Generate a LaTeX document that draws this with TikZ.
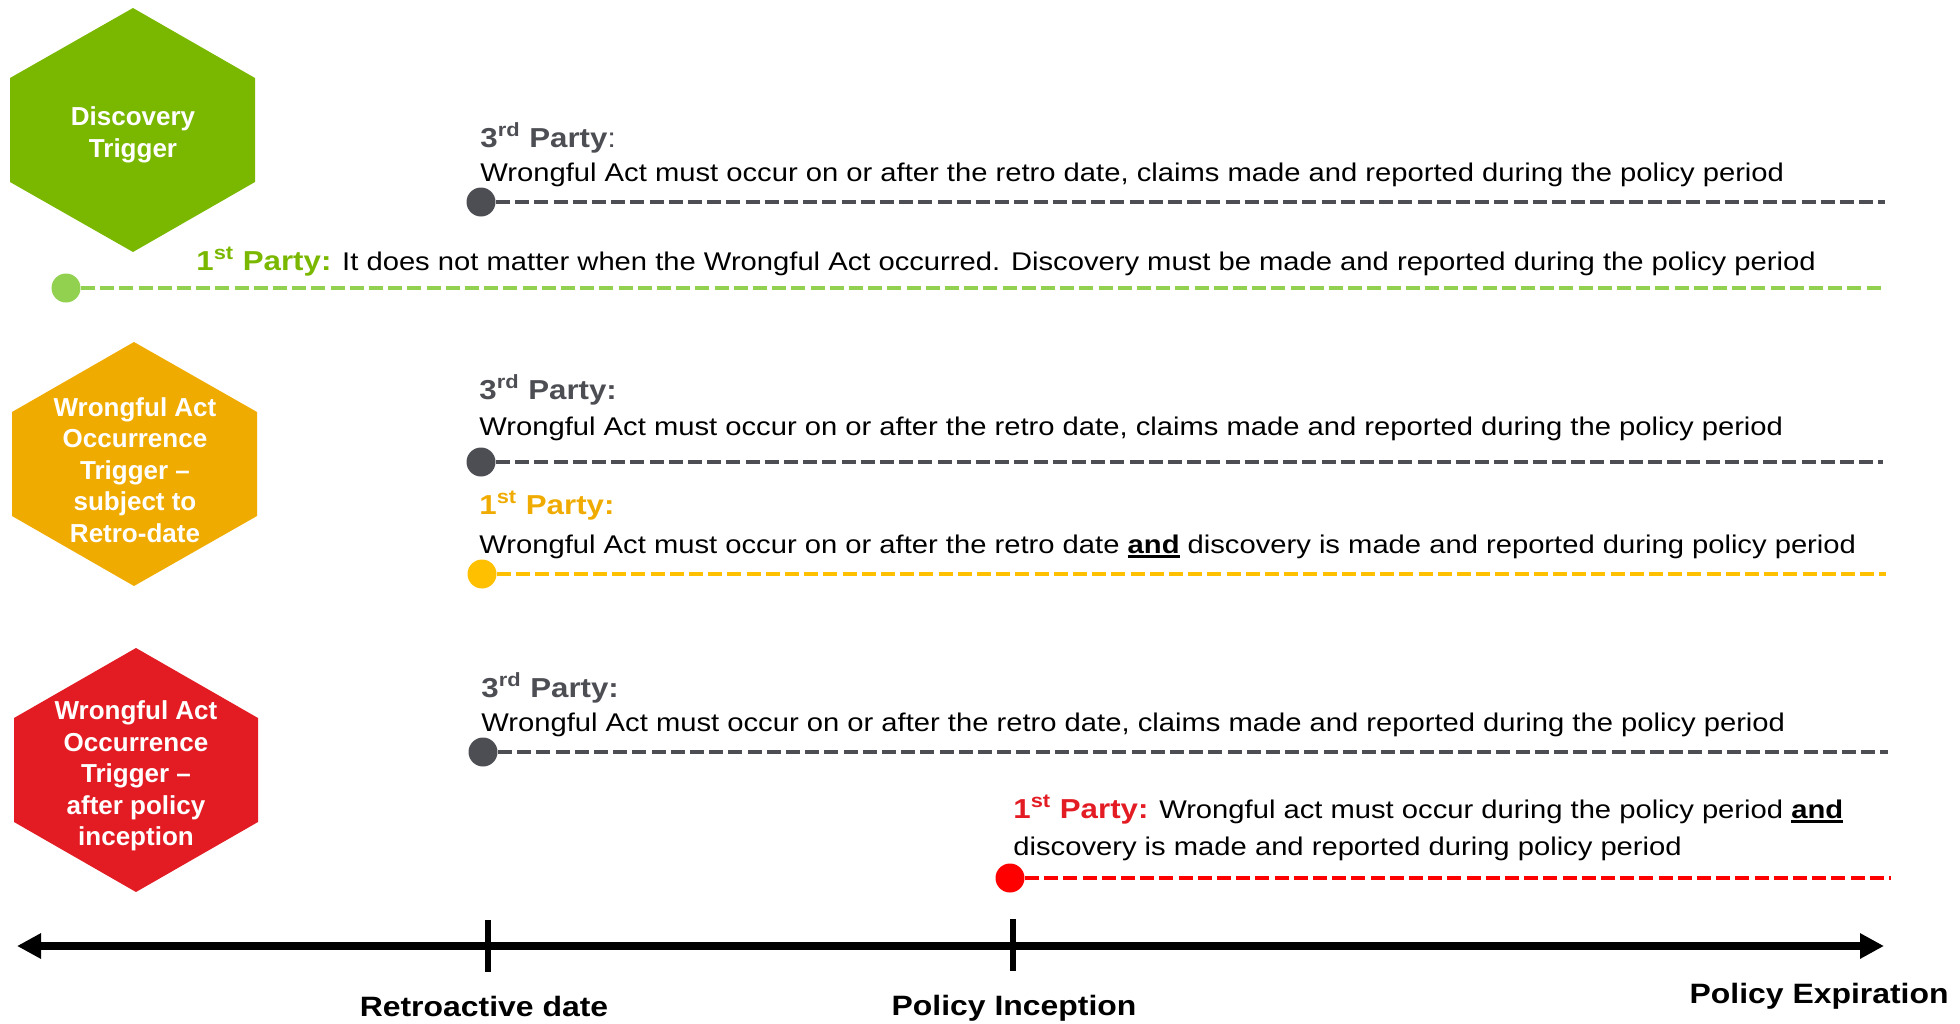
\documentclass[tikz,border=0pt]{standalone}
\usepackage{fontspec}
\setmainfont{Liberation Sans}
\newfontfamily\bodyfont{Liberation Sans}[FakeStretch=1.14]
\usetikzlibrary{arrows.meta}

\definecolor{trgreen}{HTML}{7AB800}
\definecolor{lgreen}{HTML}{92D050}
\definecolor{trorange}{HTML}{F0AB00}
\definecolor{lorange}{HTML}{FFC000}
\definecolor{trred}{HTML}{E31B23}
\definecolor{lred}{HTML}{FF0000}
\definecolor{dgray}{HTML}{4D4E53}

% bold party heading, e.g. 3rd Party
\newcommand{\partyhead}[2]{{\fontsize{13.7}{16}\selectfont\bfseries #1\textsuperscript{#2} Party}}
% bold word with a heavier underline
\newsavebox{\ulwordbox}
\newcommand{\ulword}[1]{\sbox{\ulwordbox}{\bfseries #1}\rlap{\rule[-2.3pt]{\wd\ulwordbox}{1.1pt}}\usebox{\ulwordbox}}

\begin{document}
\begin{tikzpicture}[x=0.5pt,y=-0.5pt,
  hextext/.style={text=white, align=center, inner sep=0,
    font=\fontsize{13}{15.75}\selectfont\bfseries},
  rowtext/.style={anchor=base west, inner sep=0,
    font=\bodyfont\fontsize{12.8}{16}\selectfont},
  dot/.style={circle, inner sep=0, minimum size=14.5pt, draw=none},
  dashline/.style={line width=2pt, dash pattern=on 7pt off 2.6pt},
  axisline/.style={line width=3.6pt},
  tickline/.style={line width=3.4pt},
  axislabel/.style={anchor=base, inner sep=0,
    font=\bodyfont\fontsize{14}{16}\selectfont\bfseries}]
\useasboundingbox (0,0) rectangle (1960,1023);

% trigger hexagons
\fill[trgreen]  (133,8)   -- (255,78)  -- (255,182) -- (133,252) -- (10,182) -- (10,78)  -- cycle;
\fill[trorange] (134,342) -- (257,412) -- (257,516) -- (134,586) -- (12,516) -- (12,412) -- cycle;
\fill[trred]    (136,648) -- (258,718) -- (258,822) -- (136,892) -- (14,822) -- (14,718) -- cycle;

\node[hextext] (hx1) at (133,135) {Discovery\\Trigger};
\node[hextext] (hx2) at (135,470) {Wrongful Act\\Occurrence\\Trigger --\\subject to\\Retro-date};
\node[hextext] (hx3) at (136,776) {Wrongful Act\\Occurrence\\Trigger --\\after policy\\inception};

% discovery trigger rows
\node[rowtext, text=dgray] (p1h) at (480,147) {\partyhead{3}{rd}{\fontsize{13.7}{16}\selectfont:}};
\node[rowtext] (p1) at (480,181) {Wrongful Act must occur on or after the retro date, claims made and reported during the policy period};
\node[dot, fill=dgray] (d1) at (481,202) {};
\coordinate (e1) at (1885,202);
\draw[dashline, draw=dgray] (d1) -- (e1);

\node[rowtext] (p2) at (196,270) {\textcolor{trgreen}{\partyhead{1}{st}{\fontsize{13.7}{16}\selectfont\bfseries:}} It does not matter when the Wrongful Act occurred. Discovery must be made and reported during the policy period};
\node[dot, fill=lgreen] (d2) at (66,288) {};
\coordinate (e2) at (1885,288);
\draw[dashline, draw=lgreen] (d2) -- (e2);

% retro-date trigger rows
\node[rowtext, text=dgray] (p3h) at (479,399) {\partyhead{3}{rd}{\fontsize{13.7}{16}\selectfont\bfseries:}};
\node[rowtext] (p3) at (479,435) {Wrongful Act must occur on or after the retro date, claims made and reported during the policy period};
\node[dot, fill=dgray] (d3) at (481,462) {};
\coordinate (e3) at (1883,462);
\draw[dashline, draw=dgray] (d3) -- (e3);

\node[rowtext, text=trorange] (p4h) at (479,514) {\partyhead{1}{st}{\fontsize{13.7}{16}\selectfont\bfseries:}};
\node[rowtext] (p4) at (479,553) {Wrongful Act must occur on or after the retro date \ulword{and} discovery is made and reported during policy period};
\node[dot, fill=lorange] (d4) at (482,574) {};
\coordinate (e4) at (1886,574);
\draw[dashline, draw=lorange] (d4) -- (e4);

% policy-inception trigger rows
\node[rowtext, text=dgray] (p5h) at (481,697) {\partyhead{3}{rd}{\fontsize{13.7}{16}\selectfont\bfseries:}};
\node[rowtext] (p5) at (481,731) {Wrongful Act must occur on or after the retro date, claims made and reported during the policy period};
\node[dot, fill=dgray] (d5) at (483,752) {};
\coordinate (e5) at (1888,752);
\draw[dashline, draw=dgray] (d5) -- (e5);

\node[rowtext] (p6) at (1013,818) {\textcolor{trred}{\partyhead{1}{st}{\fontsize{13.7}{16}\selectfont\bfseries:}} Wrongful act must occur during the policy period \ulword{and}};
\node[rowtext] (p7) at (1013,855) {discovery is made and reported during policy period};
\node[dot, fill=lred] (d6) at (1010,878) {};
\coordinate (e6) at (1891,878);
\draw[dashline, draw=lred] (d6) -- (e6);

% timeline
\coordinate (axL) at (17,946);
\coordinate (axR) at (1884,946);
\draw[axisline, {Triangle[length=12pt,width=12pt]}-{Triangle[length=12pt,width=12pt]}] (axL) -- (axR);
\coordinate (rt1) at (488,920);
\coordinate (rt2) at (488,972);
\coordinate (it1) at (1013,919);
\coordinate (it2) at (1013,971);
\draw[tickline] (rt1) -- (rt2);
\draw[tickline] (it1) -- (it2);

\node[axislabel] (lretro) at (484,1016) {Retroactive date};
\node[axislabel] (lincep) at (1014,1015) {Policy Inception};
\node[axislabel, anchor=base east] (lexpir) at (1949,1003) {Policy Expiration};
\end{tikzpicture}
\end{document}
